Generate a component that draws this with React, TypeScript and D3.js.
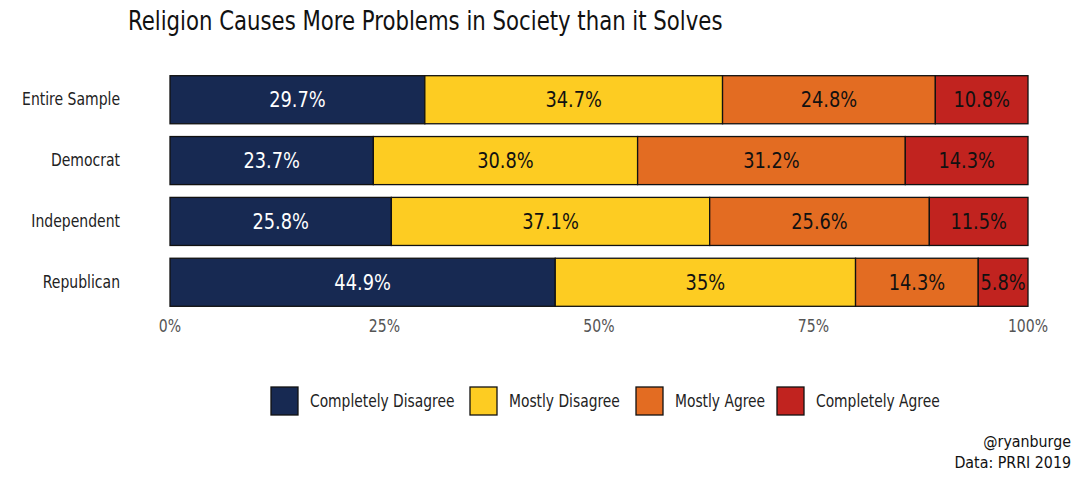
import React from "react";
import * as d3 from "d3";

const categories = ["Entire Sample", "Democrat", "Independent", "Republican"];
const seriesNames = ["Completely Disagree", "Mostly Disagree", "Mostly Agree", "Completely Agree"];
const completelyDisagree = [29.7, 23.7, 25.8, 44.9];
const mostlyDisagree = [34.7, 30.8, 37.1, 35];
const mostlyAgree = [24.8, 31.2, 25.6, 14.3];
const completelyAgree = [10.8, 14.3, 11.5, 5.8];
const tickValues = [0, 25, 50, 75, 100];
const colors = ["#172952", "#FDCC22", "#E36C22", "#C1231F"];
const textColors = ["#ffffff", "#111111", "#111111", "#111111"];

const FONT = "'DejaVu Sans Condensed', 'Roboto', sans-serif";

function T(props: any) {
  const { x, y, sx = 0.92, children, ...rest } = props;
  return (
    <text transform={`translate(${x},${y}) scale(${sx},1)`} {...rest}>{children}</text>
  );
}

export default function App() {
  const W = 1080, H = 480;
  const x = d3.scaleLinear().domain([0, 100]).range([170, 1028]);
  const y = d3.scaleBand().domain(categories).range([69, 313]).paddingInner(0.21).paddingOuter(0.11);
  const rows = categories.map((c, i) => {
    const vals = [completelyDisagree[i], mostlyDisagree[i], mostlyAgree[i], completelyAgree[i]];
    let acc = 0;
    return vals.map((v, k) => {
      const s = { cat: c, k, v, x0: acc, x1: acc + v };
      acc += v;
      return s;
    });
  });
  const legendX = [271, 470, 636, 777];
  return (
    <svg width={W} height={H} style={{ display: "block", position: "absolute", left: 0, top: 0, background: "#fff" }} fontFamily={FONT}>
      <T x={128} y={30} sx={0.875} fontSize={27} fill="#111">Religion Causes More Problems in Society than it Solves</T>
      {categories.map((c) => (
        <T key={c} x={120} y={(y(c) as number) + y.bandwidth() / 2} sx={0.915} textAnchor="end" dominantBaseline="central" fontSize={17} fill="#222">{c}</T>
      ))}
      {rows.map((segs) =>
        segs.map((s) => (
          <g key={s.cat + s.k}>
            <rect x={x(s.x0)} y={y(s.cat)} width={x(s.x1) - x(s.x0)} height={y.bandwidth()} fill={colors[s.k]} stroke="#111" strokeWidth={1.3} />
            <T x={(x(s.x0) + x(s.x1)) / 2} y={(y(s.cat) as number) + y.bandwidth() / 2} sx={0.9} textAnchor="middle" dominantBaseline="central" fontSize={22} fill={textColors[s.k]}>{d3.format("")(s.v)}%</T>
          </g>
        ))
      )}
      {tickValues.map((t) => (
        <T key={t} x={x(t)} y={326} textAnchor="middle" dominantBaseline="central" fontSize={17} fill="#555">{t}%</T>
      ))}
      {seriesNames.map((n, k) => (
        <g key={n}>
          <rect x={legendX[k]} y={387} width={27} height={28} fill={colors[k]} stroke="#111" strokeWidth={1.3} />
          <T x={legendX[k] + 39} y={401} sx={0.905} dominantBaseline="central" fontSize={17} fill="#222">{n}</T>
        </g>
      ))}
      <T x={1071} y={441} sx={0.96} textAnchor="end" dominantBaseline="central" fontSize={16.5} fill="#111">@ryanburge</T>
      <T x={1071} y={462} sx={0.96} textAnchor="end" dominantBaseline="central" fontSize={16.5} fill="#111">Data: PRRI 2019</T>
    </svg>
  );
}
